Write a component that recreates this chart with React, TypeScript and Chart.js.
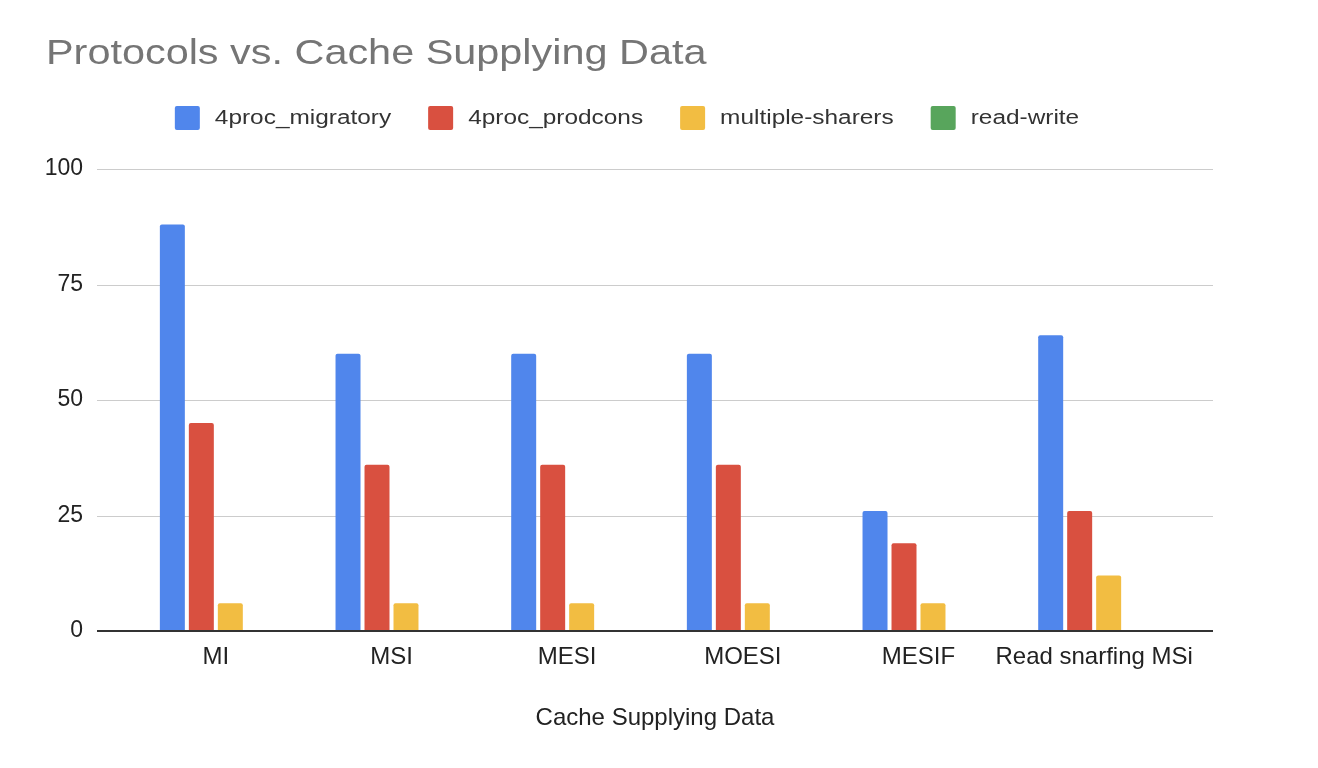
import React, { useEffect, useRef } from "react";
import { Chart, registerables } from "chart.js";

Chart.register(...registerables);

const TITLE = "Protocols vs. Cache Supplying Data";
const X_TITLE = "Cache Supplying Data";
const categories = ["MI", "MSI", "MESI", "MOESI", "MESIF", "Read snarfing MSi"];
const seriesNames = ["4proc_migratory", "4proc_prodcons", "multiple-sharers", "read-write"];
const migratory = [88, 60, 60, 60, 26, 64];
const prodcons = [45, 36, 36, 36, 19, 26];
const multipleSharers = [6, 6, 6, 6, 6, 12];
const readWrite = [0, 0, 0, 0, 0, 0];
const seriesColors = ["#5086ec", "#d95040", "#f2bd42", "#58a55c"];
const yTicks = [0, 25, 50, 75, 100];

const FONT = '"Liberation Sans", Arial, sans-serif';

const decorPlugin = {
  id: "decor",
  beforeDatasetsDraw(chart: any) {
    const { ctx, chartArea } = chart;
    const y = chart.scales.y;
    const x0 = chartArea.left - 31;
    const x1 = chartArea.right + 31;
    ctx.save();
    ctx.strokeStyle = "#cccccc";
    ctx.lineWidth = 1;
    yTicks.forEach((v) => {
      if (v === 0) return;
      const py = Math.round(y.getPixelForValue(v)) + 0.5;
      ctx.beginPath();
      ctx.moveTo(x0, py);
      ctx.lineTo(x1, py);
      ctx.stroke();
    });
    ctx.restore();
  },
  afterDatasetsDraw(chart: any) {
    const { ctx, chartArea } = chart;
    const y = chart.scales.y;
    const x0 = chartArea.left - 31;
    const x1 = chartArea.right + 31;
    const py = Math.round(y.getPixelForValue(0));
    ctx.save();
    ctx.strokeStyle = "#333333";
    ctx.lineWidth = 2;
    ctx.beginPath();
    ctx.moveTo(x0, py);
    ctx.lineTo(x1, py);
    ctx.stroke();
    ctx.restore();
  },
  afterDraw(chart: any) {
    const { ctx } = chart;
    const s = 1.2;
    ctx.save();
    // title
    ctx.font = `34.5px ${FONT}`;
    ctx.fillStyle = "#757575";
    ctx.textBaseline = "alphabetic";
    ctx.textAlign = "left";
    ctx.translate(46, 64);
    ctx.scale(s, 1);
    ctx.fillText(TITLE, 0, 0);
    ctx.restore();

    // legend
    ctx.save();
    ctx.font = `20px ${FONT}`;
    const ls = 1.22;
    const box = 25;
    const gapBT = 17;
    const gapItem = 35;
    const widths = seriesNames.map((n) => ctx.measureText(n).width * ls);
    const total =
      widths.reduce((a, w) => a + box + gapBT + w, 0) + gapItem * (seriesNames.length - 1);
    let x = chart.width / 2 - 31 - total / 2;
    seriesNames.forEach((name, i) => {
      ctx.fillStyle = seriesColors[i];
      ctx.beginPath();
      (ctx as any).roundRect(x, 106, box, 24, 2);
      ctx.fill();
      ctx.fillStyle = "#333333";
      ctx.textBaseline = "alphabetic";
      ctx.save();
      ctx.translate(x + box + gapBT - 2, 124);
      ctx.scale(ls, 1);
      ctx.fillText(name, 0, 0);
      ctx.restore();
      x += box + gapBT + widths[i] + gapItem;
    });
    ctx.restore();
  },
};

export default function App() {
  const ref = useRef<HTMLCanvasElement | null>(null);

  useEffect(() => {
    document.body.style.margin = "0";
    document.body.style.overflow = "hidden";
    const canvas = ref.current;
    if (!canvas) return;
    const series = [migratory, prodcons, multipleSharers, readWrite];
    const chart = new Chart(canvas, {
      type: "bar",
      data: {
        labels: categories,
        datasets: series.map((data, i) => ({
          label: seriesNames[i],
          data,
          backgroundColor: seriesColors[i],
          borderWidth: 0,
          borderRadius: { topLeft: 2, topRight: 2, bottomLeft: 0, bottomRight: 0 },
          borderSkipped: "start",
          categoryPercentage: 0.66,
          barPercentage: 0.862,
        })),
      },
      options: {
        animation: false,
        responsive: false,
        maintainAspectRatio: false,
        layout: { padding: { top: 169, left: 0, right: 136, bottom: 0 } },
        plugins: {
          legend: { display: false },
          title: { display: false },
          tooltip: { enabled: false },
        },
        scales: {
          x: {
            offset: true,
            grid: { display: false, drawTicks: false },
            border: { display: false },
            ticks: {
              color: "#222222",
              font: { family: FONT, size: 24 },
              padding: 12,
              maxRotation: 0,
              autoSkip: false,
            },
            title: {
              display: true,
              text: X_TITLE,
              color: "#222222",
              font: { family: FONT, size: 24 },
              padding: { top: 0, bottom: 35 },
            },
            afterFit: (sc: any) => {
              sc.height = 137;
            },
          },
          y: {
            min: 0,
            max: 100,
            ticks: {
              stepSize: 25,
              color: "#222222",
              font: { family: FONT, size: 23 },
              padding: 45,
            },
            grid: { display: false, drawTicks: false },
            border: { display: false },
            afterFit: (sc: any) => {
              sc.width = 128;
            },
          },
        },
      },
      plugins: [decorPlugin],
    });
    return () => chart.destroy();
  }, []);

  return (
    <canvas
      ref={ref}
      width={1318}
      height={768}
      style={{ display: "block", width: "1318px", height: "768px" }}
    />
  );
}
